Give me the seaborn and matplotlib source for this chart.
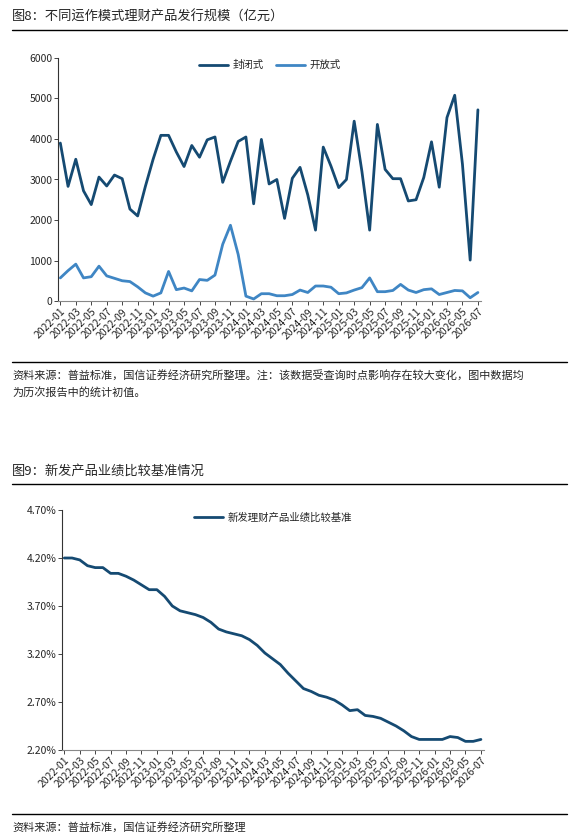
import matplotlib
matplotlib.use("Agg")
import matplotlib.pyplot as plt
import seaborn as sns
import pandas as pd
import numpy as np
from matplotlib.lines import Line2D
from matplotlib.ticker import FuncFormatter

sns.set_style("white")
plt.rcParams['font.family'] = ['Noto Sans CJK SC', 'DejaVu Sans']

months = pd.date_range("2022-01", "2026-07", freq="MS").strftime("%Y-%m").tolist()
closed = [3900,2830,3500,2720,2380,3060,2840,3110,3020,2270,2100,2830,
          3500,4090,4090,3680,3320,3840,3550,3980,4050,2930,3450,3940,
          4050,2400,3990,2890,3000,2040,3030,3300,2620,1750,3800,3330,
          2800,3000,4440,3200,1750,4360,3250,3020,3020,2470,2500,3050,
          3930,2810,4530,5080,3380,1010,4720]
opened = [570,750,910,570,600,860,620,560,500,480,350,200,
          120,200,730,280,320,250,530,510,640,1400,1870,1150,
          120,50,180,180,130,130,160,270,210,370,370,340,
          180,200,270,330,570,230,230,260,410,270,210,280,
          300,160,210,260,250,80,210]
bench = [4.20,4.20,4.18,4.12,4.10,4.10,4.04,4.04,4.01,3.97,3.92,3.87,
         3.87,3.80,3.70,3.65,3.63,3.61,3.58,3.53,3.46,3.43,3.41,3.39,
         3.35,3.29,3.21,3.15,3.09,3.00,2.92,2.84,2.81,2.77,2.75,2.72,
         2.67,2.61,2.62,2.56,2.55,2.53,2.49,2.45,2.40,2.34,2.31,2.31,
         2.31,2.31,2.34,2.33,2.29,2.29,2.31]

navy = "#154a72"
light = "#3f86c4"
x = np.arange(len(months))

fig = plt.figure(figsize=(5.8, 8.38), dpi=100)
W, H = 580, 838
def ax_rect(l, t, r, b):
    return [l / W, 1 - b / H, (r - l) / W, (b - t) / H]

def hline(y):
    fig.add_artist(Line2D([12 / W, 567 / W], [1 - y / H] * 2, color="black", lw=1.0))

fig.text(12 / W, 1 - 17 / H, "图8：不同运作模式理财产品发行规模（亿元）", fontsize=9.5, va="center")
hline(30)
hline(362)
fig.text(12 / W, 1 - 376 / H, "资料来源：普益标准，国信证券经济研究所整理。注：该数据受查询时点影响存在较大变化，图中数据均", fontsize=8, va="center")
fig.text(12 / W, 1 - 392 / H, "为历次报告中的统计初值。", fontsize=8, va="center")
fig.text(12 / W, 1 - 471 / H, "图9：新发产品业绩比较基准情况", fontsize=9.5, va="center")
hline(484)
hline(814)
fig.text(12 / W, 1 - 827 / H, "资料来源：普益标准，国信证券经济研究所整理", fontsize=8, va="center")

def style(ax):
    for s in ["top", "right"]:
        ax.spines[s].set_visible(False)
    ax.spines["left"].set_color("#333333")
    ax.spines["bottom"].set_color("#888888")
    ax.spines["left"].set_linewidth(0.8)
    ax.spines["bottom"].set_linewidth(0.8)
    ax.tick_params(axis="both", length=3, width=0.6, labelsize=7.5, pad=1,
                   direction="out", left=True, bottom=True)
    ax.set_xticks(x[::2])
    ax.set_xticklabels(months[::2], rotation=45, ha="right", rotation_mode="anchor")
    ax.set_xlim(-0.3, len(months) - 0.6)
    ax.set_xlabel("")
    ax.set_ylabel("")

ax1 = fig.add_axes(ax_rect(58, 58, 481, 301))
df1 = pd.DataFrame({"x": np.concatenate([x, x]),
                    "v": closed + opened,
                    "s": ["封闭式"] * len(x) + ["开放式"] * len(x)})
sns.lineplot(data=df1, x="x", y="v", hue="s", palette=[navy, light], lw=2, ax=ax1)
ax1.set_ylim(0, 6000)
ax1.set_yticks(range(0, 6001, 1000))
style(ax1)
ax1.legend(loc="upper center", bbox_to_anchor=(0.5, 1.03), ncol=2, frameon=False,
           fontsize=7.5, handlelength=2.8, columnspacing=1.2, handletextpad=0.4)

ax2 = fig.add_axes(ax_rect(62, 510, 484, 750))
df2 = pd.DataFrame({"x": x, "v": bench, "s": "新发理财产品业绩比较基准"})
sns.lineplot(data=df2, x="x", y="v", hue="s", palette=[navy], lw=2, ax=ax2)
ax2.set_ylim(2.2, 4.7)
ax2.set_yticks([2.2, 2.7, 3.2, 3.7, 4.2, 4.7])
ax2.yaxis.set_major_formatter(FuncFormatter(lambda v, p: f"{v:.2f}%"))
style(ax2)
ax2.legend(loc="upper center", bbox_to_anchor=(0.5, 1.03), ncol=1, frameon=False,
           fontsize=7.5, handlelength=2.8, handletextpad=0.4)

fig.savefig("out.png", dpi=100)
